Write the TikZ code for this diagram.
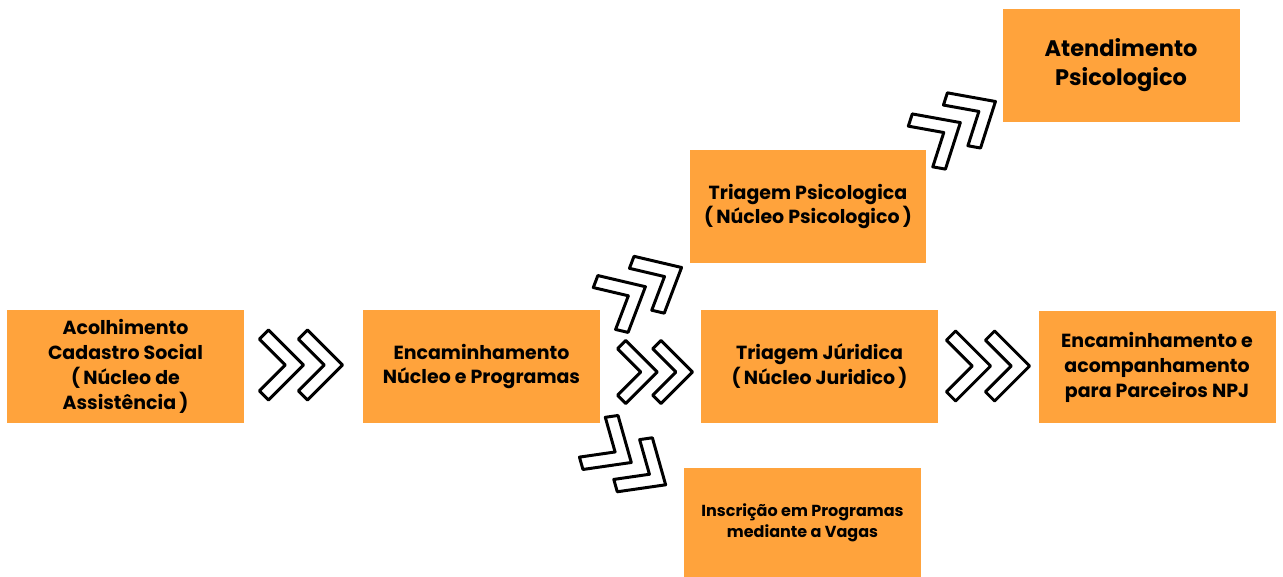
\documentclass[tikz,border=0pt]{standalone}
\usepackage{fontspec}
\setmainfont{Poppins}
\definecolor{boxorange}{HTML}{FFA33C}
\tikzset{
  box/.style={fill=boxorange, minimum width=4.74cm, minimum height=2.26cm, align=center,
    font=\bfseries\fontsize{10.8}{14.2}\selectfont},
  chevrons/.pic={
    \foreach \t in {2.6,41.6} {
      \draw[line width=1.7pt, fill=white, line join=round]
        (\t,0) -- ++(-35,-35) -- ++(-9.2,9.2) -- ++(35-9.2,35-9.2) -- ++(-35+9.2,35-9.2) -- ++(9.2,9.2) -- cycle;
    }
  }
}
\begin{document}
\begin{tikzpicture}[x=0.02cm, y=-0.02cm]
  \useasboundingbox (0,0) rectangle (1283,577);
  % boxes
  \node[box] (acolh) at (125.5,366.5) {Acolhimento\\Cadastro Social\\(\,Núcleo de\\Assistência\,)};
  \node[box] (encam) at (481.5,366.5) {Encaminhamento\\Núcleo e Programas};
  \node[box] (tpsico) at (808,206.5) {Triagem Psicologica\\(\,Núcleo Psicologico\,)};
  \node[box] (tjur) at (819.5,366.5) {Triagem Júridica\\(\,Núcleo Juridico\,)};
  \node[box] (parc) at (1157,367) {Encaminhamento e\\acompanhamento\\para Parceiros NPJ};
  \node[box, font=\bfseries\fontsize{12.8}{16.5}\selectfont] (atend) at (1121,65.5) {Atendimento\\Psicologico};
  \node[box, minimum height=2.18cm, font=\bfseries\fontsize{9.1}{12}\selectfont] (inscr) at (802.5,522.5) {Inscrição em Programas\\mediante a Vagas};

  % chevrons
  \pic at (301,365) {chevrons};
  \pic[scale=0.9] at (655,372) {chevrons};
  \pic at (988,366) {chevrons};
  \pic[rotate=28, xscale=1.05, yscale=0.92] at (643,288) {chevrons};
  \pic[rotate=31, xscale=1.05, yscale=0.92] at (958,124) {chevrons};
  \pic[rotate=-33, xscale=1.05, yscale=0.92] at (629,461) {chevrons};
\end{tikzpicture}
\end{document}
